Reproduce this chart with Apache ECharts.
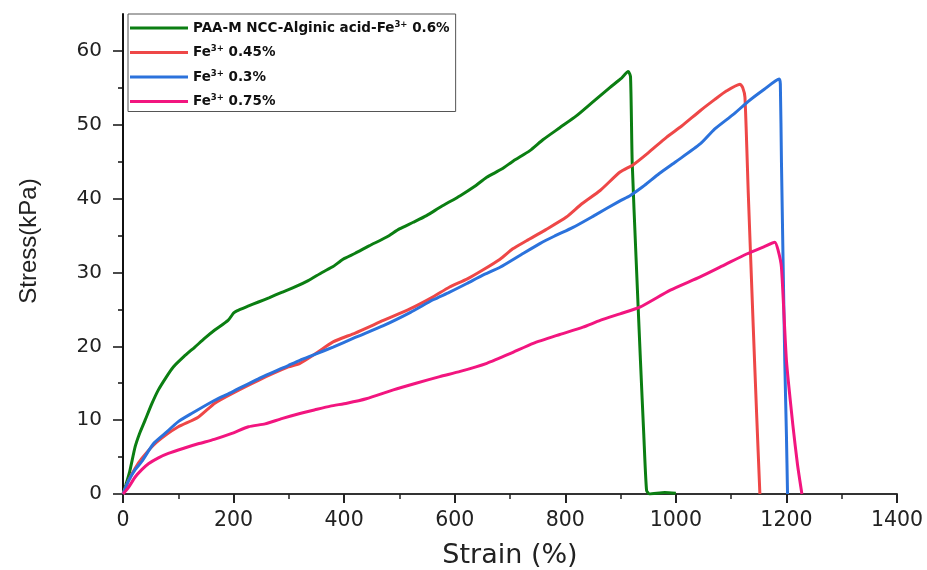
<!DOCTYPE html>
<html>
<head>
<meta charset="utf-8">
<title>Stress-strain curves</title>
<script src="https://cdn.jsdelivr.net/npm/echarts@6/dist/echarts.min.js"></script>
<style>
  html, body { margin: 0; padding: 0; background: #fff; }
  #chart { width: 927px; height: 570px; }
</style>
</head>
<body>
<div id="chart"></div>
<script>
// Tensile stress-strain curves: [strain %, stress kPa]
const seriesNames = [
  'PAA-M NCC-Alginic acid-Fe3+ 0.6%',
  'Fe3+ 0.45%',
  'Fe3+ 0.3%',
  'Fe3+ 0.75%'
];

const green = [
  [0,0],[5,1.2],[12,3],[22,6.4],[30,8.2],[40,10],[52,12.2],[64,14.1],[78,15.8],[91,17.2],
  [110,18.6],[130,19.9],[148,21.1],[166,22.2],[190,23.5],[200,24.5],[206,24.8],[225,25.4],
  [245,26],[265,26.6],[287,27.3],[310,28],[335,28.9],[360,30],[380,30.8],[398,31.8],
  [420,32.6],[445,33.6],[477,34.8],[500,35.9],[525,36.8],[549,37.7],[575,38.9],[610,40.4],
  [635,41.6],[658,42.9],[685,44],[706,45.1],[736,46.5],[760,48],[790,49.6],[820,51.2],
  [850,53.1],[880,55],[900,56.2],[914,57.2],[918,56.5],[921,45],[928,32],[936,18],
  [942,8],[947,0.5],[952,0],[980,0.2],[1000,0.1]
];

const red = [
  [0,0],[10,1.8],[22,3.5],[34,4.8],[55,6.6],[76,7.9],[100,9.1],[136,10.4],[166,12.3],
  [197,13.6],[245,15.4],[299,17.2],[320,17.7],[350,19.1],[380,20.6],[420,21.8],[471,23.5],
  [520,25.1],[561,26.7],[590,28],[622,29.1],[650,30.3],[682,31.8],[705,33.2],[730,34.3],
  [765,35.8],[802,37.5],[830,39.3],[863,41.1],[899,43.6],[923,44.6],[950,46.2],[983,48.3],
  [1010,49.8],[1044,51.9],[1070,53.4],[1092,54.6],[1116,55.5],[1121,55],[1125,53.7],
  [1131,40.7],[1140,22.6],[1146,11],[1152,0]
];

const blue = [
  [0,0],[10,1.8],[22,3.3],[34,4.4],[55,6.8],[76,8.2],[100,9.8],[124,10.9],[166,12.7],
  [197,13.8],[245,15.6],[299,17.4],[320,18.1],[347,18.9],[380,19.9],[420,21.2],[471,22.8],
  [520,24.6],[561,26.3],[590,27.3],[622,28.5],[650,29.6],[682,30.7],[720,32.4],[754,33.9],
  [780,34.9],[814,36.1],[850,37.6],[899,39.7],[917,40.4],[940,41.6],[970,43.4],[1000,45],
  [1044,47.4],[1070,49.4],[1104,51.4],[1130,53.1],[1160,54.8],[1187,56.2],[1189,55.5],
  [1191,45],[1197,18],[1200,8],[1202,0]
];

const pink = [
  [0,0],[10,0.9],[22,2.3],[34,3.3],[46,4.1],[64,4.9],[82,5.5],[110,6.2],[136,6.8],
  [165,7.4],[197,8.2],[227,9.1],[257,9.5],[287,10.2],[320,10.9],[347,11.4],[375,11.9],
  [405,12.3],[440,12.9],[489,14.1],[530,15],[573,15.9],[610,16.6],[658,17.7],[700,19],
  [742,20.4],[790,21.6],[832,22.6],[863,23.5],[899,24.4],[935,25.3],[990,27.6],[1044,29.4],
  [1090,31.1],[1128,32.5],[1160,33.5],[1179,34.1],[1185,33],[1191,30.7],[1200,18.1],
  [1212,9.1],[1220,4],[1228,0]
];

const xTicks = [0, 200, 400, 600, 800, 1000, 1200, 1400];
const yTicks = [0, 10, 20, 30, 40, 50, 60];
const yMinorTicks = [5, 15, 25, 35, 45, 55];

const colors = ['#0b7e12', '#ee4747', '#2b72dc', '#f2157f'];
const curves = [green, red, blue, pink];

const chart = echarts.init(document.getElementById('chart'), null, { renderer: 'canvas' });

const wideFont = '"DejaVu Sans", "Liberation Sans", Arial, sans-serif';
const plainFont = '"Liberation Sans", Arial, sans-serif';

chart.setOption({
  backgroundColor: '#ffffff',
  animation: false,
  grid: { left: 123, right: 30, top: 14, bottom: 76, containLabel: false, outerBoundsMode: 'none' },
  legend: {
    orient: 'vertical',
    left: 128,
    top: 14,
    padding: [6, 6, 2, 2],
    itemGap: 8.5,
    itemWidth: 58,
    itemHeight: 3,
    icon: 'rect',
    borderColor: '#555',
    borderWidth: 1,
    borderRadius: 0,
    data: seriesNames,
    formatter: function (name) {
      return '{b|' + name.replace('3+', '}{s|3+}{b|') + '}';
    },
    textStyle: {
      rich: {
        b: { fontFamily: wideFont, fontWeight: 'bold', fontSize: 13.5, color: '#111', lineHeight: 15 },
        s: { fontFamily: wideFont, fontWeight: 'bold', fontSize: 8.5, color: '#111', padding: [0, 0, 7, 0], lineHeight: 15 }
      }
    }
  },
  xAxis: {
    type: 'value',
    min: 0,
    max: 1400,
    interval: 200,
    name: 'Strain (%)',
    nameLocation: 'middle',
    nameGap: 48,
    nameTextStyle: { fontFamily: wideFont, fontSize: 27, color: '#222' },
    axisLine: { show: true, onZero: false, lineStyle: { color: '#333', width: 2 } },
    axisTick: { show: true, inside: false, length: 9, lineStyle: { color: '#222', width: 2 } },
    minorTick: { show: true, splitNumber: 2, length: 5, lineStyle: { color: '#222', width: 1.5 } },
    axisLabel: {
      margin: 16,
      fontFamily: wideFont,
      fontSize: 20.5,
      color: '#222',
      customValues: xTicks,
      formatter: function (v) { return String(v); }
    },
    splitLine: { show: false }
  },
  yAxis: [
    {
      type: 'value',
      min: 0,
      max: 65,
      name: 'Stress(kPa)',
      nameLocation: 'middle',
      nameGap: 82,
      nameRotate: 90,
      nameTextStyle: { fontFamily: plainFont, fontSize: 24, color: '#222', padding: [0, 0, 0, 26] },
      axisLine: { show: true, onZero: false, lineStyle: { color: '#111', width: 2 } },
      axisTick: { show: true, inside: false, length: 10, customValues: yTicks, lineStyle: { color: '#111', width: 1.5 } },
      axisLabel: {
        margin: 21,
        fontFamily: wideFont,
        fontSize: 20,
        color: '#222',
        customValues: yTicks,
        formatter: function (v) { return String(v); }
      },
      splitLine: { show: false }
    },
    {
      type: 'value',
      min: 0,
      max: 65,
      position: 'left',
      axisLine: { show: false },
      axisTick: { show: true, inside: false, length: 5, customValues: yMinorTicks, lineStyle: { color: '#111', width: 1.5 } },
      axisLabel: { show: false },
      splitLine: { show: false }
    }
  ],
  series: curves.map(function (d, i) {
    return {
      name: seriesNames[i],
      type: 'line',
      data: d,
      showSymbol: false,
      smooth: 0.2,
      color: colors[i],
      lineStyle: { width: 3, color: colors[i] },
      z: 2 + i
    };
  })
});
</script>
</body>
</html>
